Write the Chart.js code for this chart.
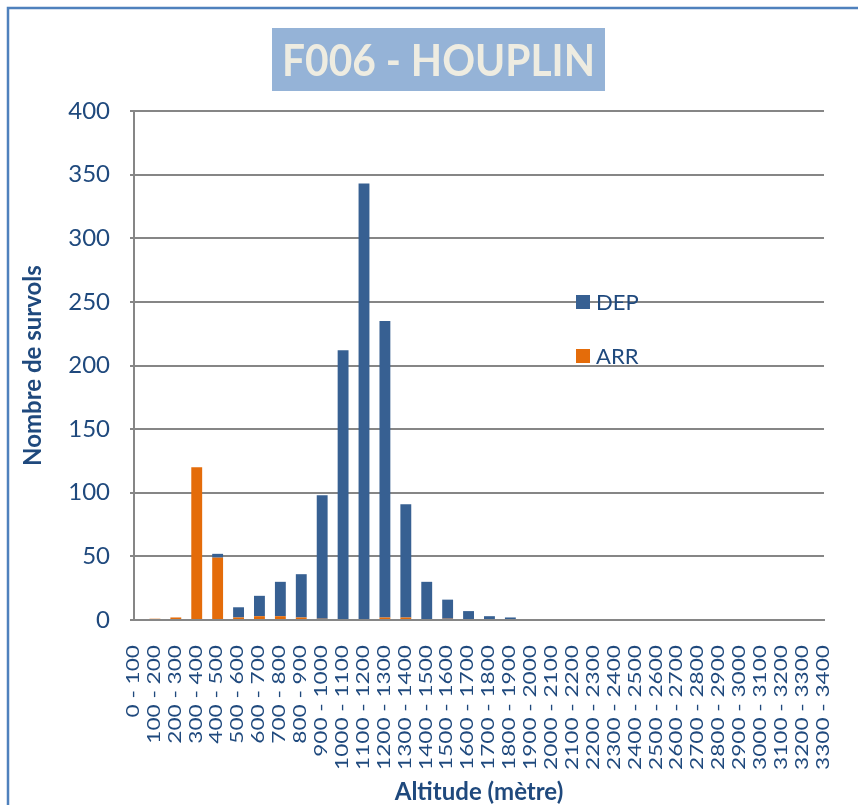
<!DOCTYPE html>
<html>
<head>
<meta charset="utf-8">
<script src="https://cdn.jsdelivr.net/npm/chart.js@4"></script>
<style>
  html, body { margin: 0; padding: 0; background: #ffffff; }
  #wrap { width: 858px; height: 805px; position: relative; }
</style>
</head>
<body>
<div id="wrap"><canvas id="altChart"></canvas></div>
<script>
// altitude bands (tick labels)
var altitudeLabels = [
    '0 - 100', '100 - 200', '200 - 300', '300 - 400', '400 - 500', '500 - 600',
    '600 - 700', '700 - 800', '800 - 900', '900 - 1000', '1000 - 1100', '1100 - 1200',
    '1200 - 1300', '1300 - 1400', '1400 - 1500', '1500 - 1600', '1600 - 1700', '1700 - 1800',
    '1800 - 1900', '1900 - 2000', '2000 - 2100', '2100 - 2200', '2200 - 2300', '2300 - 2400',
    '2400 - 2500', '2500 - 2600', '2600 - 2700', '2700 - 2800', '2800 - 2900', '2900 - 3000',
    '3000 - 3100', '3100 - 3200', '3200 - 3300', '3300 - 3400'
];

// departures
var depValues = [0, 0, 0, 0, 3, 8, 16, 27, 34, 97, 212, 343, 233, 89, 30, 15, 7, 3,
                 2, 0, 0, 0, 0, 0, 0, 0, 0, 0, 0, 0, 0, 0, 0, 0];

// arrivals
var arrValues = [0, 1, 2, 120, 49, 2, 3, 3, 2, 1, 0, 0, 2, 2, 0, 1, 0, 0,
                 0, 0, 0, 0, 0, 0, 0, 0, 0, 0, 0, 0, 0, 0, 0, 0];

var yTicks = [0, 50, 100, 150, 200, 250, 300, 350, 400];

var chartTitle = 'F006 - HOUPLIN';
var legendOrder = ['DEP', 'ARR'];

var textBlue = '#1F497D';
var gridGrey = '#868686';

// background, frame and title box
var framePlugin = {
    id: 'frame',
    beforeDraw: function(chart) {
        var ctx = chart.ctx;
        ctx.save();
        ctx.fillStyle = '#ffffff';
        ctx.fillRect(0, 0, chart.width, chart.height);
        ctx.restore();
    },
    afterDraw: function(chart) {
        var ctx = chart.ctx;
        ctx.save();
        // outer border
        ctx.strokeStyle = '#4F81BD';
        ctx.lineWidth = 2.5;
        ctx.beginPath();
        ctx.moveTo(8, chart.height);
        ctx.lineTo(8, 8);
        ctx.lineTo(chart.width, 8);
        ctx.stroke();

        // title box
        ctx.fillStyle = '#95B3D7';
        ctx.fillRect(272, 28, 333, 63);
        ctx.font = 'bold 44px Lato';
        ctx.fillStyle = '#EEECE1';
        ctx.textAlign = 'center';
        ctx.textBaseline = 'alphabetic';
        var w = ctx.measureText(chartTitle).width;
        var sx = Math.min(1, 313 / w);
        ctx.translate(438.5, 76);
        ctx.scale(sx, 1);
        ctx.fillText(chartTitle, 0, 0);
        ctx.restore();
    }
};

// rotated x labels (stretched like the original)
var xLabelPlugin = {
    id: 'xLabels',
    afterDraw: function(chart) {
        var ctx = chart.ctx;
        var xs = chart.scales.x;
        ctx.save();
        ctx.font = '18px Lato';
        ctx.fillStyle = textBlue;
        var maxW = 0;
        altitudeLabels.forEach(function(l) {
            maxW = Math.max(maxW, ctx.measureText(l).width);
        });
        var stretch = 125 / maxW;
        ctx.textAlign = 'right';
        ctx.textBaseline = 'middle';
        altitudeLabels.forEach(function(l, i) {
            var x = xs.getPixelForValue(i);
            ctx.save();
            ctx.translate(x - 1, 645);
            ctx.rotate(-Math.PI / 2);
            ctx.scale(stretch, 1);
            ctx.fillText(l, 0, 0);
            ctx.restore();
        });
        ctx.restore();
    }
};

// legend inside plot area
var legendPlugin = {
    id: 'innerLegend',
    afterDatasetsDraw: function(chart) {
        var ctx = chart.ctx;
        ctx.save();
        ctx.font = '22px Lato';
        ctx.textBaseline = 'middle';
        ctx.textAlign = 'left';
        legendOrder.forEach(function(name, i) {
            var ds = chart.data.datasets.find(function(d) { return d.label === name; });
            var cy = 302 + i * 54;
            ctx.fillStyle = ds.backgroundColor;
            ctx.fillRect(576, cy - 7, 14, 14);
            ctx.fillStyle = textBlue;
            ctx.fillText(ds.label, 596, cy + 1);
        });
        ctx.restore();
    }
};

var ctx = document.getElementById('altChart').getContext('2d');
var altChart = new Chart(ctx, {
    type: 'bar',
    data: {
        labels: altitudeLabels,
        datasets: [{
            label: 'ARR',
            data: arrValues,
            backgroundColor: '#E46C0A',
            barPercentage: 0.52,
            categoryPercentage: 1
        }, {
            label: 'DEP',
            data: depValues,
            backgroundColor: '#376092',
            barPercentage: 0.52,
            categoryPercentage: 1
        }]
    },
    options: {
        responsive: true,
        maintainAspectRatio: false,
        animation: false,
        layout: {
            padding: { top: 111, right: 34, left: 0, bottom: 0 }
        },
        scales: {
            x: {
                stacked: true,
                offset: false,
                grid: { display: false },
                border: { display: true, color: gridGrey, width: 2 },
                ticks: { display: false },
                title: {
                    display: true,
                    text: 'Altitude (mètre)',
                    color: textBlue,
                    font: { family: 'Lato', size: 24, weight: 'bold', lineHeight: 1 },
                    padding: { top: 0, bottom: 1 }
                },
                afterFit: function(scale) { scale.height = 185; }
            },
            y: {
                stacked: true,
                min: 0,
                max: 400,
                afterBuildTicks: function(scale) {
                    scale.ticks = yTicks.map(function(v) { return { value: v }; });
                },
                grid: {
                    color: gridGrey,
                    lineWidth: 2,
                    drawTicks: true,
                    tickLength: 4
                },
                border: { display: true, color: gridGrey, width: 2 },
                ticks: {
                    color: textBlue,
                    padding: 20,
                    font: { family: 'Lato', size: 24 }
                },
                title: {
                    display: true,
                    text: 'Nombre de survols',
                    color: textBlue,
                    font: { family: 'Lato', size: 24, weight: 'bold', lineHeight: 1.2 },
                    padding: { top: 19, bottom: 0 }
                },
                afterFit: function(scale) { scale.width = 134; }
            }
        },
        plugins: {
            legend: { display: false },
            tooltip: { enabled: false }
        }
    },
    plugins: [framePlugin, xLabelPlugin, legendPlugin]
});
</script>
</body>
</html>
